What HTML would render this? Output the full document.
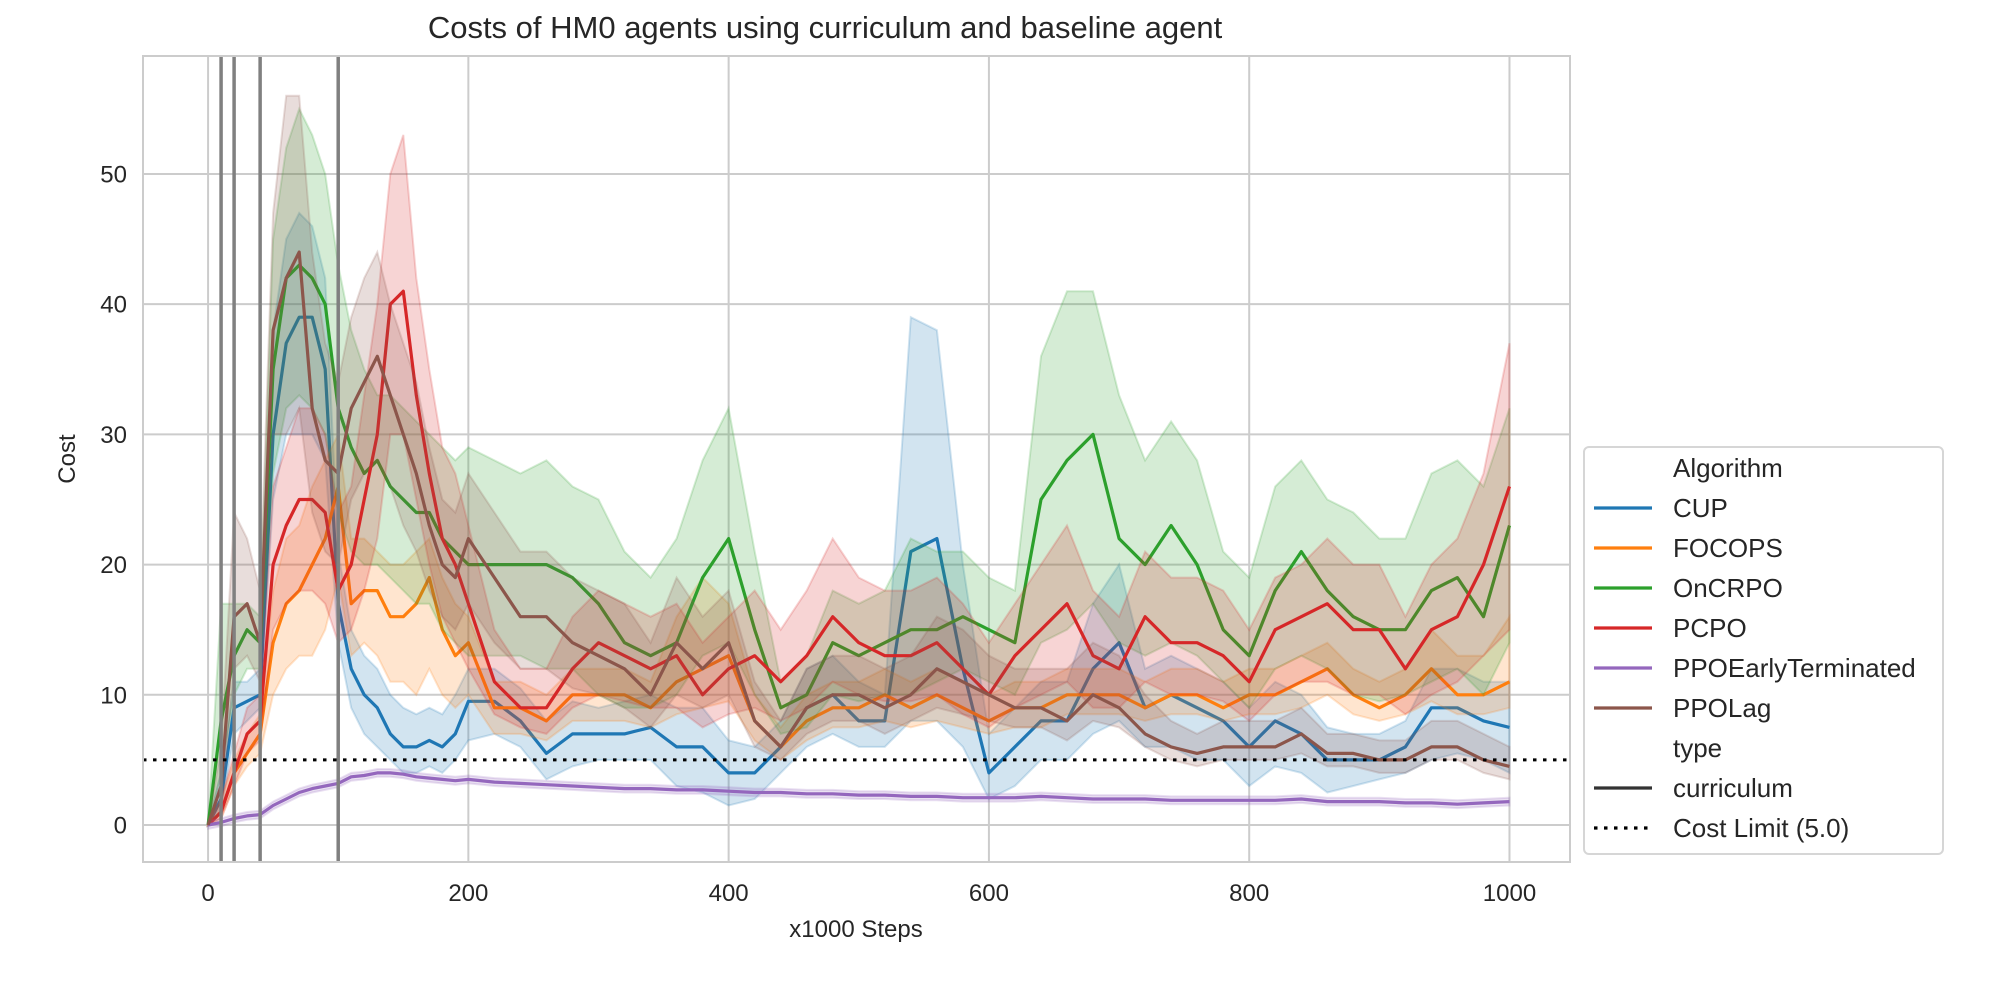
<!DOCTYPE html>
<html><head><meta charset="utf-8"><style>
html,body{margin:0;padding:0;background:#fff}
svg{display:block;font-family:"Liberation Sans",Arial,sans-serif}
</style></head><body>
<svg id="chart" width="2000" height="1000" viewBox="0 0 2000 1000" xmlns="http://www.w3.org/2000/svg">
<rect x="0" y="0" width="2000" height="1000" fill="#fff"/>
<g id="grid"></g>
<g id="marks"></g>
<rect x="143" y="56" width="1427" height="806" fill="none" stroke="#cccccc" stroke-width="2"/>
<g id="ticks"></g>
<text x="825" y="38" font-size="31" text-anchor="middle" fill="#262626">Costs of HM0 agents using curriculum and baseline agent</text>
<text x="856" y="937" font-size="24" text-anchor="middle" fill="#262626">x1000 Steps</text>
<text x="75" y="459" font-size="24" text-anchor="middle" fill="#262626" transform="rotate(-90 75 459)">Cost</text>
<g id="legend">
<rect x="1584" y="447" width="359" height="407" rx="5" fill="#fff" fill-opacity="0.85" stroke="#d6d6d6" stroke-width="2"/>
</g>
</svg>
<script>
const steps = [0,10,20,30,40,50,60,70,80,90,100,110,120,130,140,150,160,170,180,190,200,220,240,260,280,300,320,340,360,380,400,420,440,460,480,500,520,540,560,580,600,620,640,660,680,700,720,740,760,780,800,820,840,860,880,900,920,940,960,980,1000];
const cupMean = [0,2,9,9.5,10,30,37,39,39,35,17,12,10,9,7,6,6,6.5,6,7,9.5,9.5,8,5.5,7,7,7,7.5,6,6,4,4,6,9,10,8,8,21,22,12,4,6,8,8,12,14,9,10,9,8,6,8,7,5,5,5,6,9,9,8,7.5];
const cupLo = [0,1,7,8,9,25,30,30,30,28,14,9,7,6,5,4,4,4.5,4,5,6.5,7,6,3.5,4.5,5,5,5,3,2.5,1.5,2,4,6,7,6,6,8,8,6,2,3,5,5,7,8,6,6,5,5,3,4.5,4,2.5,3,3.5,4,5,5.5,5,4];
const cupHi = [0,4,11,11,12,38,45,47,46,42,21,15,13,12,10,9,8.5,9,8.5,10,12,12,10.5,8,9.5,9,9.5,10,9,9,6.5,6,8,12,13,11,10,39,38,20,7,9,11,11,17,20,12,13,12,11,9,11,10,7.5,7,7,8,12,12,11,11];
const focMean = [0,1,4,5.5,7,14,17,18,20,22,26,17,18,18,16,16,17,19,15,13,14,9,9,8,10,10,10,9,11,12,13,8,6,8,9,9,10,9,10,9,8,9,9,10,10,10,9,10,10,9,10,10,11,12,10,9,10,12,10,10,11];
const focLo = [0,0.5,3,4.5,5.5,10,12,13,13,15,19,13,14,13,11,11,10,12,10,9,10,7,7,6.5,8,8,8,7.5,8.5,9,9.5,6.5,5,6.5,7.5,7.5,8,7.5,8,7.5,7,7.5,7.5,8.5,8.5,8.5,8,8.5,8.5,8,8.5,8.5,9,10,8.5,8,8.5,9.5,8.5,8.5,9];
const focHi = [0,2,5,7,8.5,18,22,23,26,28,30,22,22,21,20,20,21,22,19,17,16,11,11,10,12,12,12,11,16,19,17,10,7.5,10,11,11,12,11,12,11,10,11,11,12,12,12,11,12,12,11,12,12,13,14,12,11,12,15,13,13,16];
const oncMean = [0,8,13,15,14,35,42,43,42,40,32,29,27,28,26,25,24,24,22,21,20,20,20,20,19,17,14,13,14,19,22,15,9,10,14,13,14,15,15,16,15,14,25,28,30,22,20,23,20,15,13,18,21,18,16,15,15,18,19,16,23];
const oncLo = [0,4,10,12,12,27,32,33,32,30,24,21,20,20,19,18,17,17,15,14,13,13,13,12,12,10,9,9,10,13,14,10,7,7.5,10,9.5,10,10,11,12,11,10,14,15,17,14,13,14,13,11,9,12,13,12,10,9.5,10,11,12,10,14];
const oncHi = [0,17,17,17,16,45,52,55,53,50,43,38,35,33,33,32,31,30,29,28,29,28,27,28,26,25,21,19,22,28,32,21,11,13,18,17,18,22,21,21,19,18,36,41,41,33,28,31,28,21,19,26,28,25,24,22,22,27,28,26,32];
const pcpMean = [0,1,4,7,8,20,23,25,25,24,18,20,25,30,40,41,33,27,22,20,17,11,9,9,12,14,13,12,13,10,12,13,11,13,16,14,13,13,14,12,10,13,15,17,13,12,16,14,14,13,11,15,16,17,15,15,12,15,16,20,26];
const pcpLo = [0,0.5,3,5.5,6.5,15,17,18,18,17,14,15,18,22,30,30,25,20,16,14,12,8.5,7.5,7,9,10,9.5,9,9,7.5,8.5,9,8,9,11,10,9.5,9.5,10,8.5,7.5,9,10,11,9,9,11,10,10,9.5,8,10,11,11,10,10,8.5,10,11,13,15];
const pcpHi = [0,2,5.5,9,10,26,29,32,32,30,24,26,33,40,50,53,42,35,29,27,23,15,12,12,16,18,17,16,17,14,16,18,15,18,22,19,18,18,19,17,14,17,20,23,18,16,21,19,19,18,15,19,20,22,20,20,16,20,22,27,37];
const etMean = [0,0.2,0.5,0.7,0.8,1.5,2,2.5,2.8,3,3.2,3.7,3.8,4,4,3.9,3.7,3.6,3.5,3.4,3.5,3.3,3.2,3.1,3,2.9,2.8,2.8,2.7,2.7,2.6,2.5,2.5,2.4,2.4,2.3,2.3,2.2,2.2,2.1,2.1,2.1,2.2,2.1,2,2,2,1.9,1.9,1.9,1.9,1.9,2,1.8,1.8,1.8,1.7,1.7,1.6,1.7,1.8];
const etBand = 0.3;
const lagMean = [0,3,16,17,14,38,42,44,32,28,27,32,34,36,33,30,27,23,20,19,22,19,16,16,14,13,12,10,14,12,14,8,6,9,10,10,9,10,12,11,10,9,9,8,10,9,7,6,5.5,6,6,6,7,5.5,5.5,5,5,6,6,5,4.5];
const lagLo = [0,1,12,13,11,30,30,32,24,21,20,25,27,28,26,23,21,18,16,15,17,14,12,12,10.5,10,9,7.5,10,9,10,6,5,7,8,8,7,8,9,8.5,8,7.5,7.5,6.5,8,7.5,6,5,4.5,5,5,5,5.5,4.5,4.5,4,4,5,5,4,3.5];
const lagHi = [0,6,24,22,18,47,56,56,44,37,34,39,42,44,40,37,34,29,25,24,27,24,21,21,19,18,17,14,19,16,18,11,8,12,13,13,12,13,16,15,13,12,12,12,14,13,10,8,7,8,8,8,9,7,7,6.5,6.5,8,8,7,6];
const xTicks = [0,200,400,600,800,1000];
const yTicks = [0,10,20,30,40,50];
const curriculumSwitches = [10,20,40,100];
const costLimit = 5.0;
const seriesNames = ["CUP","FOCOPS","OnCRPO","PCPO","PPOEarlyTerminated","PPOLag"];

const NS="http://www.w3.org/2000/svg";
const X0=143,X1=1570,Y0=56,Y1=862, XMIN=-50,XMAX=1046.5,YMIN=-2.84,YMAX=59.06;
function sx(v){return X0+(v-XMIN)/(XMAX-XMIN)*(X1-X0);}
function sy(v){return Y1-(v-YMIN)/(YMAX-YMIN)*(Y1-Y0);}
function mk(tag,attrs,parent){const e=document.createElementNS(NS,tag);for(const k in attrs)e.setAttribute(k,attrs[k]);parent.appendChild(e);return e;}
const grid=document.getElementById('grid'),marks=document.getElementById('marks'),ticks=document.getElementById('ticks'),legend=document.getElementById('legend');

xTicks.forEach(t=>{
  const l=mk('line',{x1:sx(t),x2:sx(t),y1:Y0,y2:Y1,stroke:'#cccccc','stroke-width':2},grid);
  
  
  const tx=mk('text',{x:sx(t),y:901,'font-size':24,'text-anchor':'middle',fill:'#262626'},ticks);
  tx.textContent=t;
  
  
});
yTicks.forEach(t=>{
  const l=mk('line',{x1:X0,x2:X1,y1:sy(t),y2:sy(t),stroke:'#cccccc','stroke-width':2},grid);
  
  
  const tx=mk('text',{x:127,y:sy(t)+8.5,'font-size':24,'text-anchor':'end',fill:'#262626'},ticks);
  tx.textContent=t;
  
  
});

const colors=["#1f77b4","#ff7f0e","#2ca02c","#d62728","#9467bd","#8c564b"];
const series=[
 [cupMean,cupLo,cupHi],[focMean,focLo,focHi],[oncMean,oncLo,oncHi],[pcpMean,pcpLo,pcpHi],
 [etMean,etMean.map(v=>v-etBand),etMean.map(v=>v+etBand)],[lagMean,lagLo,lagHi]];
series.forEach((s,i)=>{
  const [m,lo,hi]=s;
  let d='M'+steps.map((x,j)=>sx(x).toFixed(1)+','+sy(hi[j]).toFixed(1)).join('L');
  for(let j=steps.length-1;j>=0;j--) d+='L'+sx(steps[j]).toFixed(1)+','+sy(lo[j]).toFixed(1);
  const band=mk('path',{d:d+'Z',fill:colors[i],'fill-opacity':0.2,stroke:colors[i],'stroke-opacity':0.2,'stroke-width':2},marks);
  
  
  const line=mk('polyline',{points:steps.map((x,j)=>sx(x).toFixed(1)+','+sy(m[j]).toFixed(1)).join(' '),fill:'none',stroke:colors[i],'stroke-width':3.2,'stroke-linejoin':'round'},marks);
  
  
});
curriculumSwitches.forEach(v=>{
  const l=mk('line',{x1:sx(v),x2:sx(v),y1:Y0,y2:Y1,stroke:'#808080','stroke-width':3.5},marks);
  
  
});
const cl=mk('line',{x1:X0,x2:X1,y1:sy(costLimit),y2:sy(costLimit),stroke:'#000','stroke-width':3,'stroke-dasharray':'3.5 6.5'},marks);



const rows=[["Algorithm",null],["CUP",colors[0]],["FOCOPS",colors[1]],["OnCRPO",colors[2]],["PCPO",colors[3]],["PPOEarlyTerminated",colors[4]],["PPOLag",colors[5]],["type",null],["curriculum","#333333"],["Cost Limit (5.0)","dot"]];
rows.forEach((r,i)=>{
  const cy=468+i*40;
  if(r[1]){
    const h=mk('line',{x1:1594,x2:1652,y1:cy,y2:cy,stroke:r[1]==='dot'?'#000':r[1],'stroke-width':3.2},legend);
    if(r[1]==='dot')h.setAttribute('stroke-dasharray','3.5 6.5');
    
    
  }
  const t=mk('text',{x:1673,y:cy+9,'font-size':26,fill:'#262626'},legend);
  t.textContent=r[0];
  
  
});
</script>
</body></html>
